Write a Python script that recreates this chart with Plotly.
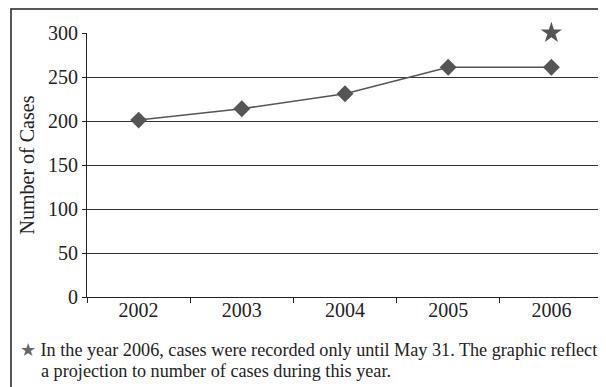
import plotly.graph_objects as go

years = ["2002", "2003", "2004", "2005", "2006"]
cases = [201, 214, 231, 261, 261]
projection_year = ["2006"]
projection_value = [300]
y_ticks = [0, 50, 100, 150, 200, 250, 300]
grid_values = [50, 100, 150, 200, 250]
note_line1 = "In the year 2006, cases were recorded only until May 31. The graphic reflect"
note_line2 = "a projection to number of cases during this year."

GRAY = "#555555"
FONT = "'Liberation Serif', 'Times New Roman', Times, serif"
TXT = "#222222"

fig = go.Figure()
fig.add_trace(go.Scatter(
    x=years, y=cases, mode="lines+markers",
    line=dict(color=GRAY, width=1.5),
    marker=dict(symbol="diamond", size=13, color=GRAY),
    cliponaxis=False, showlegend=False,
))
fig.add_trace(go.Scatter(
    x=projection_year, y=projection_value, mode="markers",
    marker=dict(symbol="star", size=16, color=GRAY),
    cliponaxis=False, showlegend=False,
))
# invisible trace to drive the gridline axis
fig.add_trace(go.Scatter(x=years, y=cases, mode="none", yaxis="y2",
                         showlegend=False, hoverinfo="skip"))

fig.update_layout(
    width=606, height=387,
    margin=dict(l=79, r=11, t=25, b=98),
    paper_bgcolor="white", plot_bgcolor="rgba(0,0,0,0)",
    font=dict(family=FONT, size=20, color=TXT),
    xaxis=dict(
        type="category", showgrid=False, showline=True, linecolor=TXT, linewidth=1,
        ticks="outside", ticklen=5, tickcolor=TXT, tickson="boundaries",
        tickfont=dict(family=FONT, size=20, color=TXT), range=[-0.5, 4.5],
        ticklabelstandoff=-5, automargin=False,
    ),
    yaxis=dict(
        range=[0, 300], tickvals=y_ticks, showgrid=False, zeroline=False,
        showline=True, linecolor=TXT, linewidth=1,
        ticks="outside", ticklen=4, tickcolor=TXT,
        tickfont=dict(family=FONT, size=20, color=TXT),
        title=dict(text="Number of Cases", font=dict(family=FONT, size=20, color=TXT), standoff=8),
        automargin=False,
    ),
    yaxis2=dict(
        overlaying="y", range=[0, 300], tickvals=grid_values, showgrid=True,
        gridcolor="#333", gridwidth=1, showticklabels=False, ticks="",
        zeroline=False, showline=False, automargin=False,
    ),
    shapes=[dict(
        type="rect", xref="paper", yref="paper",
        x0=-0.1473, x1=1.2, y0=-1.0, y1=1.091,
        line=dict(color=TXT, width=1.5), fillcolor="rgba(0,0,0,0)", layer="below",
    )],
    annotations=[
        dict(
            xref="paper", yref="paper", x=-0.133, y=-0.2,
            xanchor="left", yanchor="middle", align="left", showarrow=False,
            text='<span style="color:#666">★</span> ' + note_line1,
            font=dict(family=FONT, size=18.2, color=TXT),
        ),
        dict(
            xref="paper", yref="paper", x=-0.093, y=-0.28,
            xanchor="left", yanchor="middle", align="left", showarrow=False,
            text=note_line2,
            font=dict(family=FONT, size=18.2, color=TXT),
        ),
    ],
)

fig.write_html("out.html")
